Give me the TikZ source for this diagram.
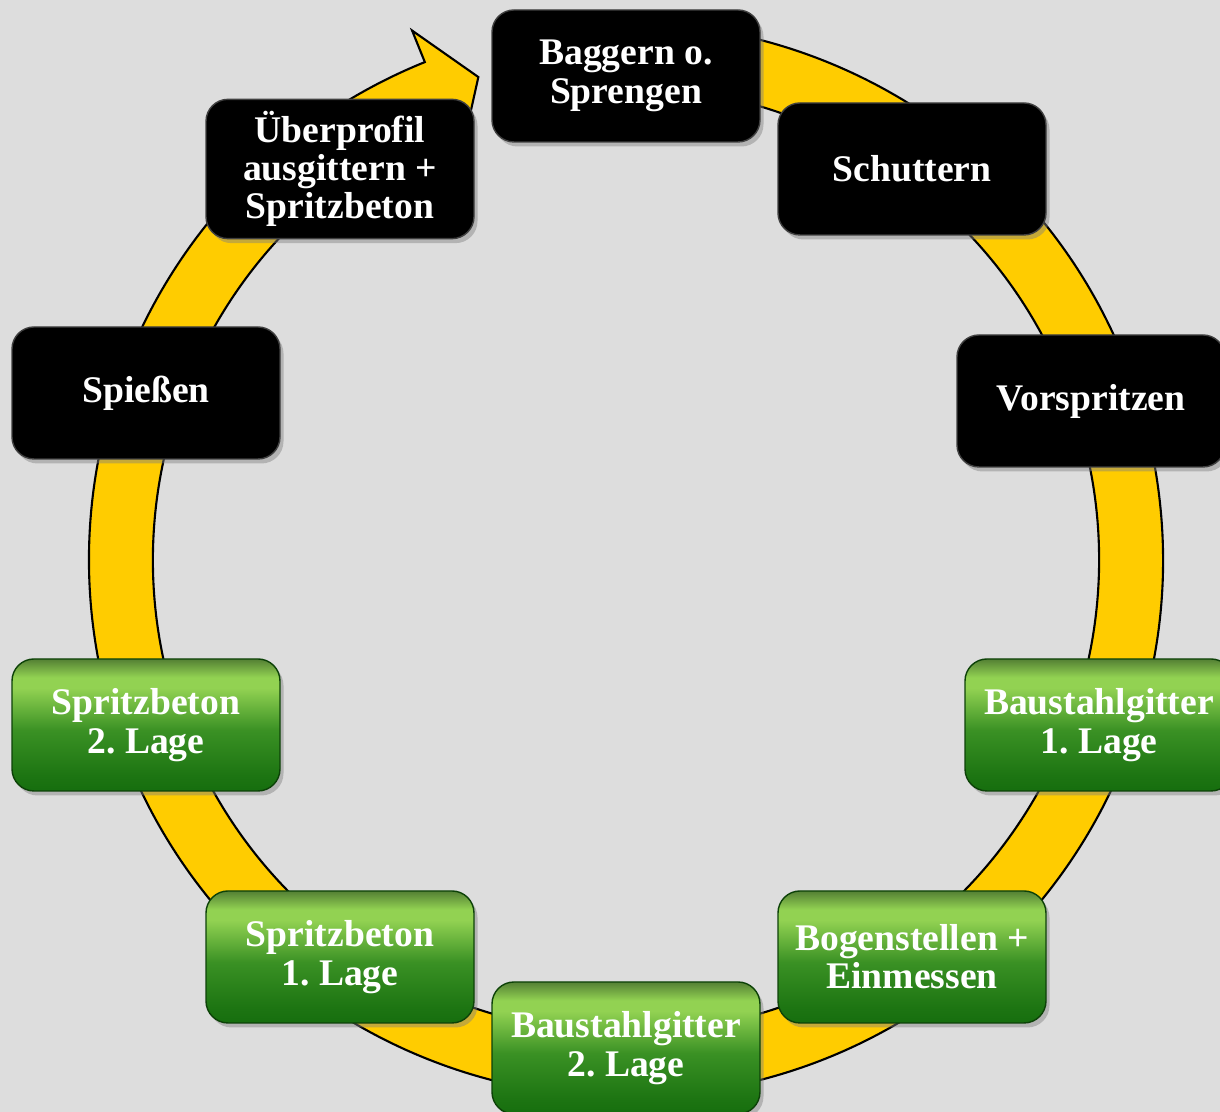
\documentclass[tikz,border=0pt]{standalone}
\usepackage{fontspec}
\setmainfont{Liberation Serif}
\usetikzlibrary{shadows}
\frenchspacing

\definecolor{sfondo}{RGB}{221,221,221}
\definecolor{anello}{RGB}{255,204,0}
\definecolor{verdechiaro}{RGB}{146,210,82}
\definecolor{verdemedio}{RGB}{58,145,36}
\definecolor{verdescuro}{RGB}{22,110,14}
\definecolor{verdeoliva}{RGB}{84,128,52}

% sfumatura verticale dei passi verdi (il nodo va da 25bp a 75bp)
\pgfdeclareverticalshading{verdelucido}{100bp}{
  color(0bp)=(verdescuro); color(25bp)=(verdescuro); color(31bp)=(verdescuro!80!verdemedio);
  color(48bp)=(verdemedio); color(64bp)=(verdechiaro); color(68bp)=(verdechiaro);
  color(75bp)=(verdeoliva); color(100bp)=(verdeoliva)}

\tikzset{
  passo/.style={rounded corners=0.22cm, minimum width=2.68cm, minimum height=1.32cm,
    align=center, text=white, font=\fontsize{10.7}{10.9}\selectfont\bfseries,
    drop shadow={opacity=0.45, shadow xshift=0.035cm, shadow yshift=-0.045cm}},
  nero/.style={passo, fill=black, draw=black!75, line width=0.4pt},
  verde/.style={passo, shading=verdelucido, draw=verdescuro!60!black, line width=0.4pt}
}

\begin{document}
\begin{tikzpicture}
        % Sfondo
        \useasboundingbox (0,0) rectangle (12.2,11.12);
        \clip (0,0) rectangle (12.2,11.12);
        \fill[sfondo] (0,0) rectangle (12.2,11.12);

        % Anello giallo con la punta della freccia
        \begin{scope}[shift={(6.26,5.52)}]
            \filldraw[fill=anello, draw=black, line width=0.6pt]
                (100:5.37) arc[start angle=100, end angle=-248, radius=5.37]
                -- (-248:5.71) -- (-253:5.05) -- (-248:4.39) -- (-248:4.73)
                arc[start angle=-248, end angle=100, radius=4.73] -- cycle;
        \end{scope}

        % Passi neri
        \node[nero] (baggern)    at (6.26,10.36) {Baggern o.\\Sprengen};
        \node[nero] (schuttern)  at (9.12,9.43)  {Schuttern};
        \node[nero] (vorspritzen) at (10.91,7.11) {Vorspritzen};
        \node[nero] (spiessen)   at (1.46,7.19)  {Spießen};
        \node[nero] (ueberprofil) at (3.40,9.43) {Überprofil\\ausgittern +\\Spritzbeton};

        % Passi verdi
        \node[verde] (gitter1)   at (10.99,3.87) {Baustahlgitter\\1. Lage};
        \node[verde] (bogen)     at (9.12,1.55)  {Bogenstellen +\\Einmessen};
        \node[verde] (gitter2)   at (6.26,0.64)  {Baustahlgitter\\2. Lage};
        \node[verde] (beton1)    at (3.40,1.55)  {Spritzbeton\\1. Lage};
        \node[verde] (beton2)    at (1.46,3.87)  {Spritzbeton\\2. Lage};
\end{tikzpicture}
\end{document}
